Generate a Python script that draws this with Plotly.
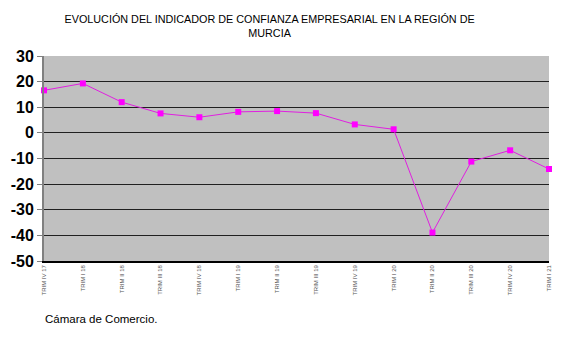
import plotly.graph_objects as go

# Quarterly business-confidence indicator, Región de Murcia
trimestres = [
    "TRIM IV 17", "TRIM I 18", "TRIM II 18", "TRIM III 18", "TRIM IV 18",
    "TRIM I 19", "TRIM II 19", "TRIM III 19", "TRIM IV 19",
    "TRIM I 20", "TRIM II 20", "TRIM III 20", "TRIM IV 20", "TRIM I 21",
]
indicador = [16.6, 19.3, 12.0, 7.6, 6.1, 8.2, 8.5, 7.7, 3.3, 1.4, -38.9, -11.2, -6.8, -14.1]

y_ticks = [30, 20, 10, 0, -10, -20, -30, -40, -50]

fig = go.Figure()
fig.add_trace(go.Scatter(
    x=list(range(len(trimestres))),
    y=indicador,
    mode="lines+markers",
    line=dict(color="#E020E0", width=1),
    marker=dict(symbol="square", size=6, color="#FF00FF"),
    cliponaxis=False,
    hoverinfo="y",
))

fig.update_layout(
    width=564, height=342,
    margin=dict(l=44, r=15, t=56, b=81),
    paper_bgcolor="white",
    plot_bgcolor="#C0C0C0",
    showlegend=False,
    title=dict(
        text="EVOLUCIÓN DEL INDICADOR DE CONFIANZA EMPRESARIAL EN LA REGIÓN DE<br>MURCIA",
        x=0.478, xanchor="center", y=0.932, yanchor="top",
        font=dict(family="Liberation Sans, Arial", size=10.8, color="black"),
    ),
    xaxis=dict(
        range=[0, len(trimestres) - 1],
        tickmode="array",
        tickvals=list(range(len(trimestres))),
        ticktext=trimestres,
        tickangle=-90,
        tickfont=dict(family="Liberation Sans, Arial", size=6, color="#555555"),
        showgrid=False,
        zeroline=False,
        showline=True, linecolor="black", linewidth=1.5,
        ticks="", ticklen=0,
    ),
    yaxis=dict(
        range=[-50, 30],
        tickmode="array",
        tickvals=y_ticks,
        ticktext=[str(v) for v in y_ticks],
        tickfont=dict(family="Liberation Sans, Arial", size=16, color="black", weight="bold"),
        showgrid=True, gridcolor="#202020", gridwidth=1.2,
        zeroline=False,
        showline=True, linecolor="#808080", linewidth=2,
        ticks="outside", ticklen=5, tickcolor="#808080",
    ),
)

fig.add_annotation(
    text="Cámara de Comercio.",
    xref="paper", yref="paper",
    x=-0.002, y=-0.245, xanchor="left", yanchor="top",
    showarrow=False,
    font=dict(family="Liberation Sans, Arial", size=11.5, color="black"),
)

fig.write_html("out.html")
